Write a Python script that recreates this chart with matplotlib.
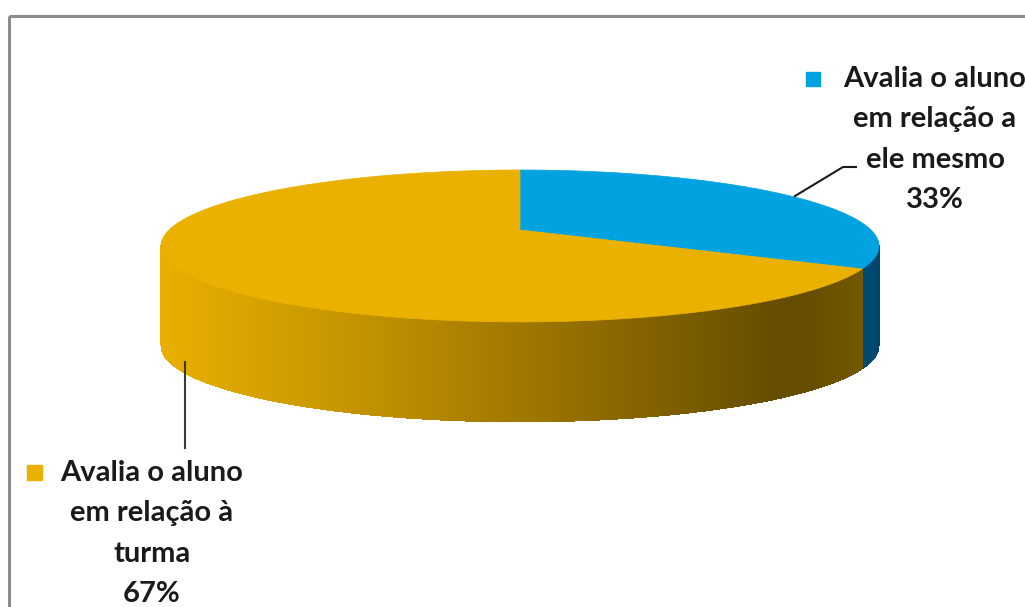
import numpy as np
import matplotlib
matplotlib.use("Agg")
import matplotlib.pyplot as plt
from matplotlib.patches import Polygon, Rectangle

# data
labels = ["Avalia o aluno\nem relação a\nele mesmo", "Avalia o aluno\nem relação à\nturma"]
shares = [33, 67]
top_colors = ["#00A3DF", "#EAB100"]
side_colors = [(0.0, 0.36, 0.55), (0.93, 0.70, 0.0)]

plt.rcParams['font.family'] = ['Lato', 'DejaVu Sans']

W, H = 1025, 607
fig = plt.figure(figsize=(W / 100, H / 100), dpi=100)
ax = fig.add_axes([0, 0, 1, 1])
ax.set_xlim(0, W)
ax.set_ylim(H, 0)
ax.axis("off")

# pie geometry (screen px), simple perspective
cx, cy = 520, 230
A, B, k = 351, 72.6, 0.21
depth = 100


def proj(phi):
    u, v = np.cos(phi), np.sin(phi)
    w = 1 - k * v
    return cx + A * u / w, cy + B * v / w


# slice angles: start at back (phi=-90deg) going clockwise
fr = np.array(shares) / sum(shares)
starts = -np.pi / 2 + 2 * np.pi * np.concatenate([[0], np.cumsum(fr)[:-1]])
ends = starts + 2 * np.pi * fr


def slice_index(phi):
    p = (phi + np.pi / 2) % (2 * np.pi) - np.pi / 2
    for i in range(len(shares)):
        if starts[i] <= p < ends[i]:
            return i
    return len(shares) - 1


# side wall as thin strips with shading along x
phis = np.linspace(np.arcsin(k) - 0.05, np.pi - np.arcsin(k) + 0.05, 600)
step = phis[1] - phis[0]
for a, b in zip(phis[:-1], phis[1:]):
    xa, ya = proj(a - step * 0.6)
    xb, yb = proj(b + step * 0.6)
    i = slice_index((a + b) / 2)
    xm = (xa + xb) / 2
    t = (xm - 160) / (880 - 160)
    f = 0.98 - 0.55 * np.clip(t / 0.85, 0, 1) ** 1.1
    if t > 0.9:
        f += 0.08 * (t - 0.9) / 0.1
    if i == 0:
        f = 0.95 - 0.2 * np.clip((t - 0.94) / 0.06, 0, 1)
    col = tuple(np.clip(np.array(side_colors[i]) * f, 0, 1))
    ax.add_patch(Polygon([(xa, ya), (xb, yb), (xb, yb + depth), (xa, ya + depth)],
                         closed=True, facecolor=col, edgecolor="none",
                         antialiased=False))

# top faces
for i in range(len(shares)):
    ph = np.linspace(starts[i], ends[i], 300)
    xs, ys = proj(ph)
    pts = [(cx, cy)] + list(zip(xs, ys))
    ax.add_patch(Polygon(pts, closed=True, facecolor=top_colors[i],
                         edgecolor=top_colors[i], lw=0.5))

# chart border
ax.add_patch(Rectangle((8.5, 15.5), 1100, 700, fill=False, edgecolor="#8c8c8c", lw=2.2))

# labels with leader lines
ax.plot([795, 843, 856], [196, 167, 167], color="#1a1a1a", lw=1.5)
ax.plot([185, 185], [362, 448], color="#3a3a3a", lw=1.5)

txt_kw = dict(fontsize=21, fontweight="bold", color="#1a1a1a", ha="center",
              va="top", linespacing=1.68)
ax.text(935, 66, labels[0] + "\n%d%%" % shares[0], **txt_kw)
ax.add_patch(Rectangle((806, 72), 14, 14, color=top_colors[0]))
ax.text(152, 460, labels[1] + "\n%d%%" % shares[1], **txt_kw)
ax.add_patch(Rectangle((27, 465), 15, 15, color=top_colors[1]))

fig.savefig("out.png", dpi=100)
